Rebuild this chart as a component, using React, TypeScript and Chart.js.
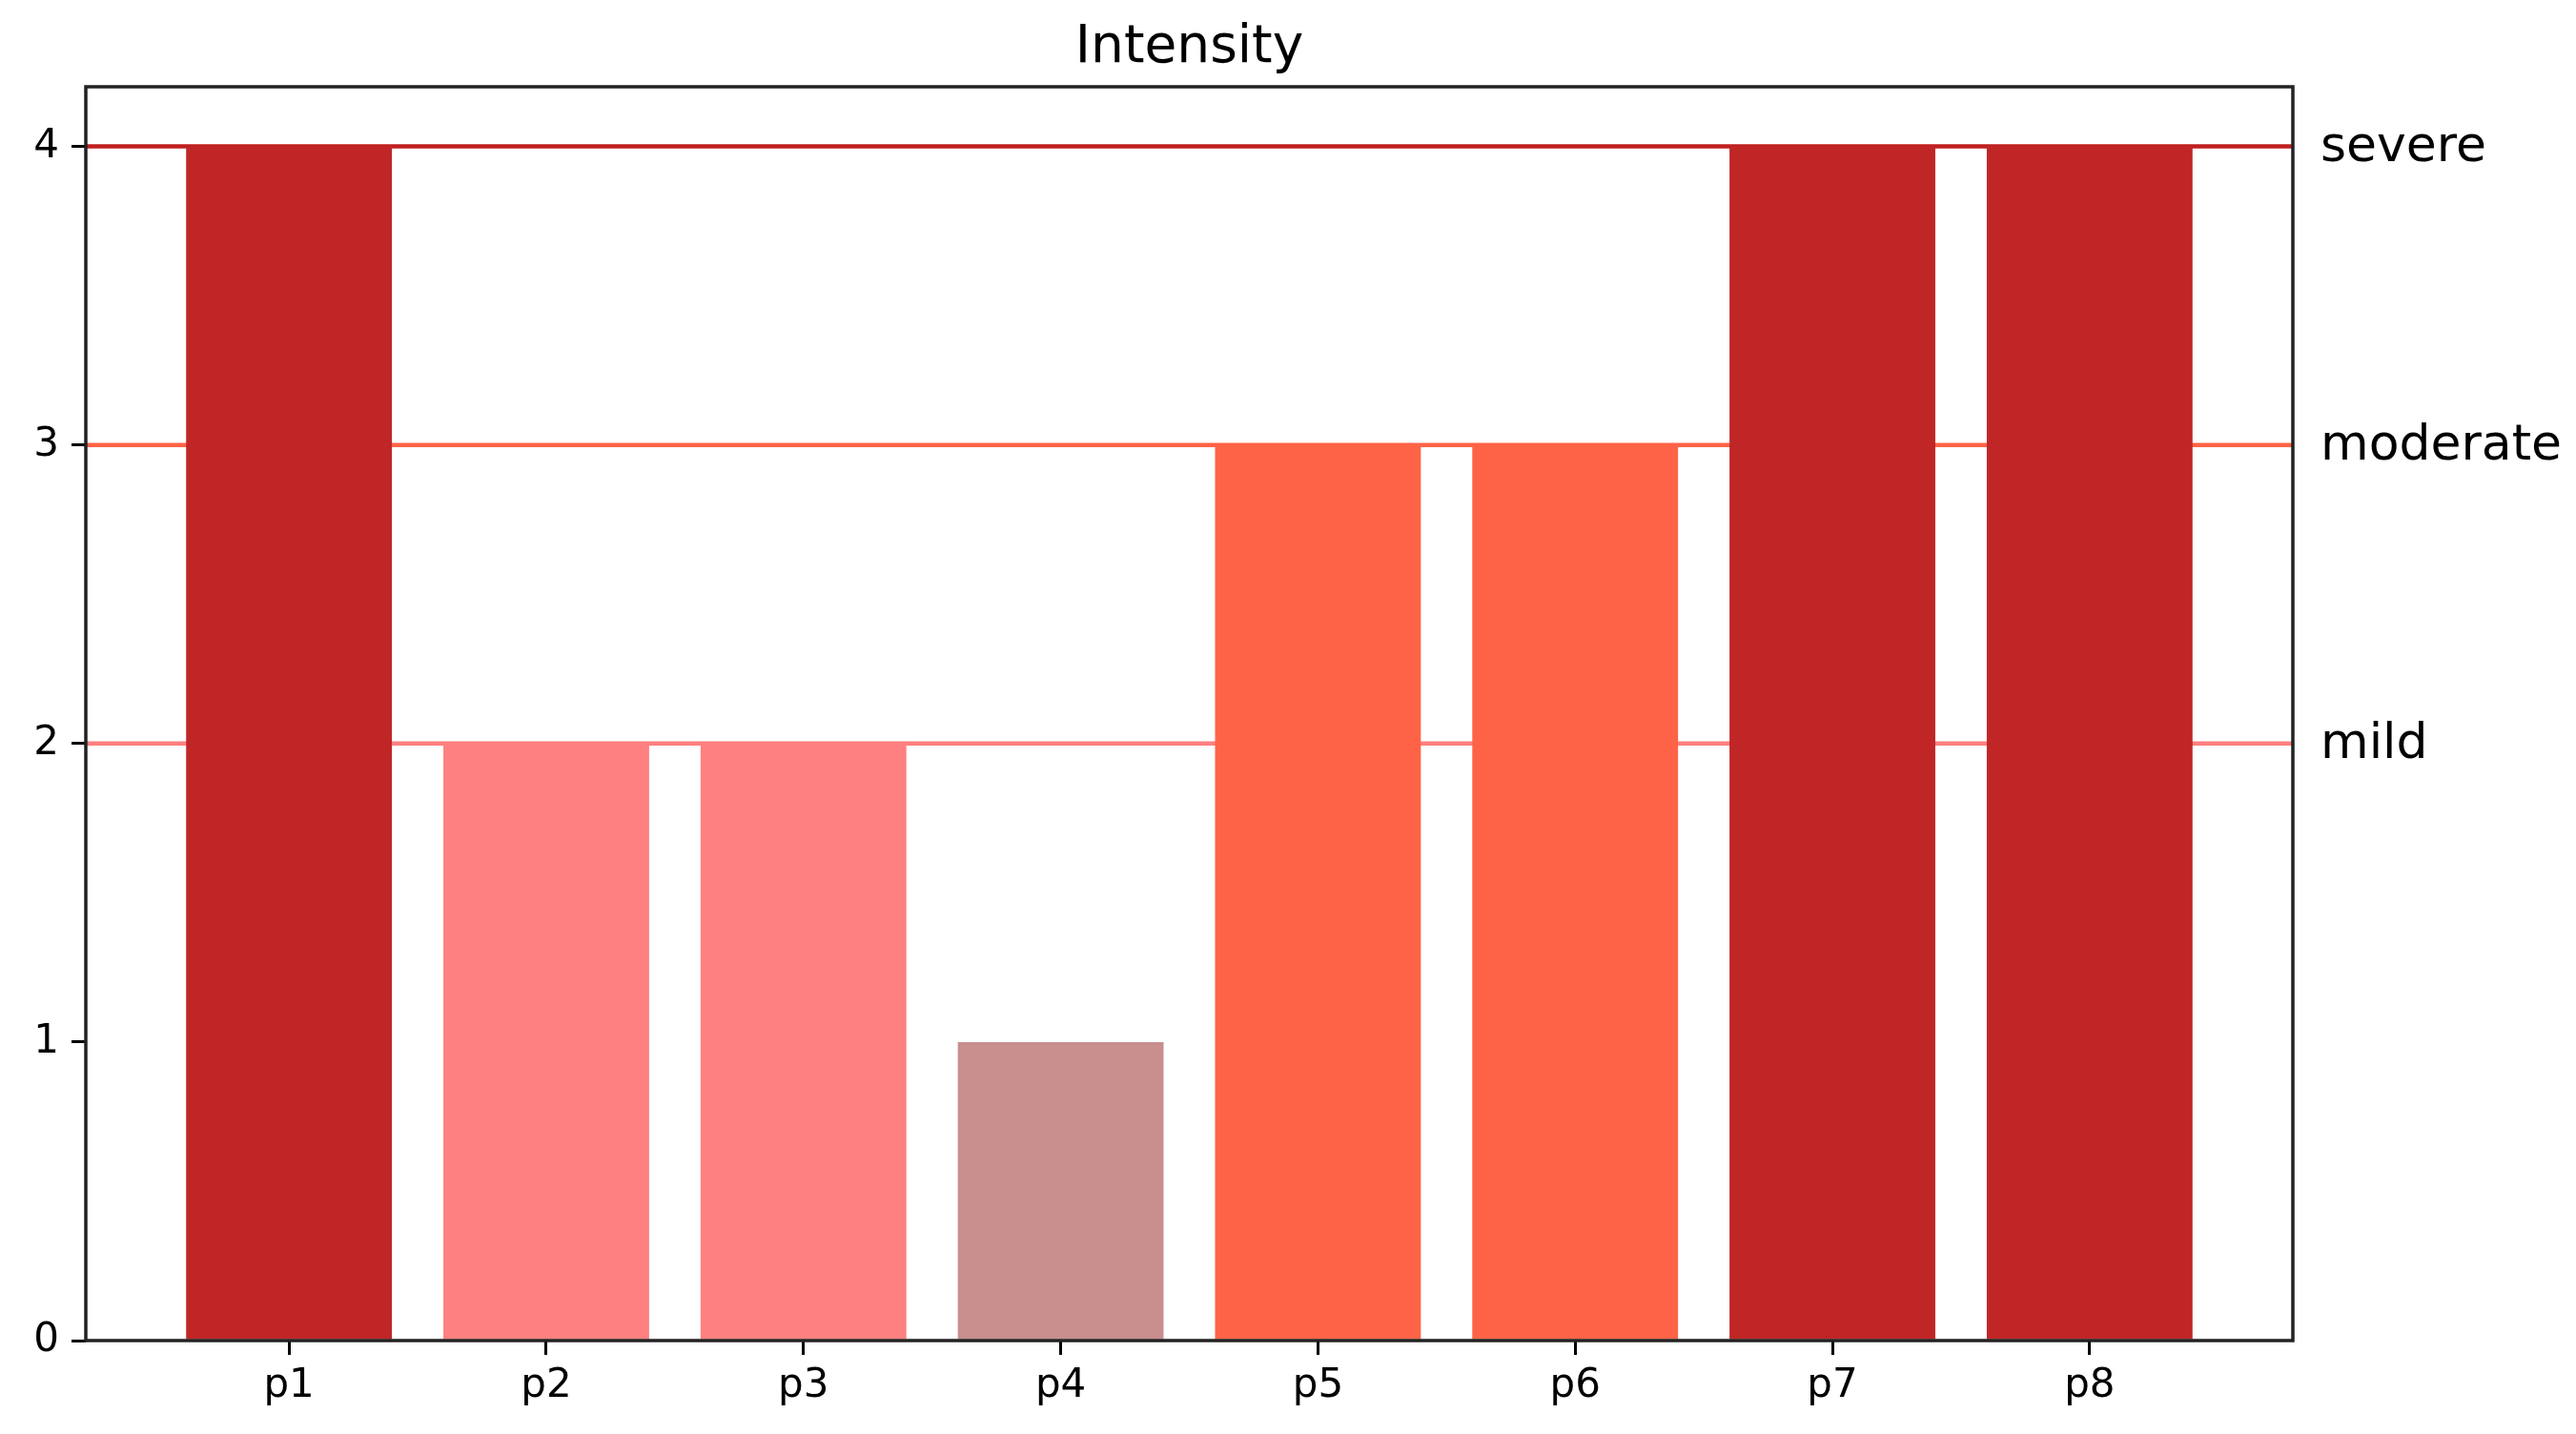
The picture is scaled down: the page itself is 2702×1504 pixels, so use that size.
import React, { useEffect, useRef } from "react";
import { Chart, registerables } from "chart.js";

Chart.register(...registerables);

const categories = ["p1", "p2", "p3", "p4", "p5", "p6", "p7", "p8"];
const intensity = [4, 2, 2, 1, 3, 3, 4, 4];
const barColors = ["#C02626", "#FF8080", "#FF8080", "#C98E8E", "#FF6347", "#FF6347", "#C02626", "#C02626"];
const levelNames = ["mild", "moderate", "severe"];
const levelValues = [2, 3, 4];
const levelColors = ["#FF7F7F", "#FF6347", "#C0201F"];
const yTicks = [0, 1, 2, 3, 4];
const chartTitle = "Intensity";

const FONT = "DejaVu Sans";

const levelLinesPlugin = {
  id: "levelLines",
  afterLayout(chart: any) {
    const tb = chart.titleBlock;
    if (tb) {
      tb.left = chart.chartArea.left;
      tb.right = chart.chartArea.right;
      tb.width = tb.right - tb.left;
    }
  },
  beforeDatasetsDraw(chart: any) {
    const { ctx, chartArea, scales } = chart;
    ctx.save();
    levelValues.forEach((v, i) => {
      const y = scales.y.getPixelForValue(v);
      ctx.strokeStyle = levelColors[i];
      ctx.lineWidth = 4.5;
      ctx.beginPath();
      ctx.moveTo(chartArea.left, y);
      ctx.lineTo(chartArea.right, y);
      ctx.stroke();
    });
    ctx.restore();
  },
  afterDatasetsDraw(chart: any) {
    const { ctx, chartArea, scales } = chart;
    ctx.save();
    ctx.strokeStyle = "#222";
    ctx.lineWidth = 3.5;
    ctx.strokeRect(chartArea.left, chartArea.top, chartArea.right - chartArea.left, chartArea.bottom - chartArea.top);
    ctx.fillStyle = "#000";
    ctx.font = `52px "${FONT}"`;
    ctx.textAlign = "left";
    ctx.textBaseline = "alphabetic";
    levelValues.forEach((v, i) => {
      const y = scales.y.getPixelForValue(v);
      ctx.fillText(levelNames[i], chartArea.right + 29, y + 15);
    });
    ctx.restore();
  },
};

export default function App() {
  const ref = useRef<HTMLCanvasElement | null>(null);
  useEffect(() => {
    if (!ref.current) return;
    const chart = new Chart(ref.current, {
      type: "bar",
      data: {
        datasets: [
          {
            label: chartTitle,
            data: intensity.map((v, i) => ({ x: i, y: v })),
            backgroundColor: barColors,
            borderWidth: 0,
            barPercentage: 0.8,
            categoryPercentage: 1.0,
          },
        ],
      },
      options: {
        responsive: false,
        animation: false,
        devicePixelRatio: 1,
        layout: { padding: { left: 0, right: 297, top: 0, bottom: 0 } },
        plugins: {
          legend: { display: false },
          tooltip: { enabled: false },
          title: {
            display: true,
            text: chartTitle,
            color: "#000",
            font: { family: FONT, size: 55, weight: "normal", lineHeight: 1.2 },
            padding: { top: 18, bottom: 7 },
          },
        },
        scales: {
          x: {
            type: "linear",
            min: -0.79,
            max: 7.79,
            offset: false,
            grid: { display: true, drawOnChartArea: false, drawTicks: true, tickLength: 15, tickColor: "#000", lineWidth: 3, offset: false },
            border: { display: false },
            ticks: {
              autoSkip: false,
              maxRotation: 0,
              color: "#000",
              font: { family: FONT, size: 42 },
              padding: 8,
              callback: (v: any) => categories[v as number] ?? "",
            },
            afterBuildTicks: (scale: any) => {
              scale.ticks = categories.map((_, i) => ({ value: i }));
            },
            afterFit: (scale: any) => {
              scale.height = 98;
            },
          },
          y: {
            type: "linear",
            min: 0,
            max: 4.2,
            grid: { display: true, drawOnChartArea: false, drawTicks: true, tickLength: 15, tickColor: "#000", lineWidth: 3 },
            border: { display: false },
            ticks: {
              color: "#000",
              font: { family: FONT, size: 42 },
              padding: 13,
              callback: (v: any) => String(v),
            },
            afterBuildTicks: (scale: any) => {
              scale.ticks = yTicks.map((v) => ({ value: v }));
            },
            afterFit: (scale: any) => {
              scale.width = 90;
            },
          },
        },
      } as any,
      plugins: [levelLinesPlugin],
    });
    return () => chart.destroy();
  }, []);
  return (
    <div style={{ position: "absolute", left: 0, top: 0, width: 2702, height: 1504, background: "#fff" }}>
      <canvas ref={ref} width={2702} height={1504} />
    </div>
  );
}
